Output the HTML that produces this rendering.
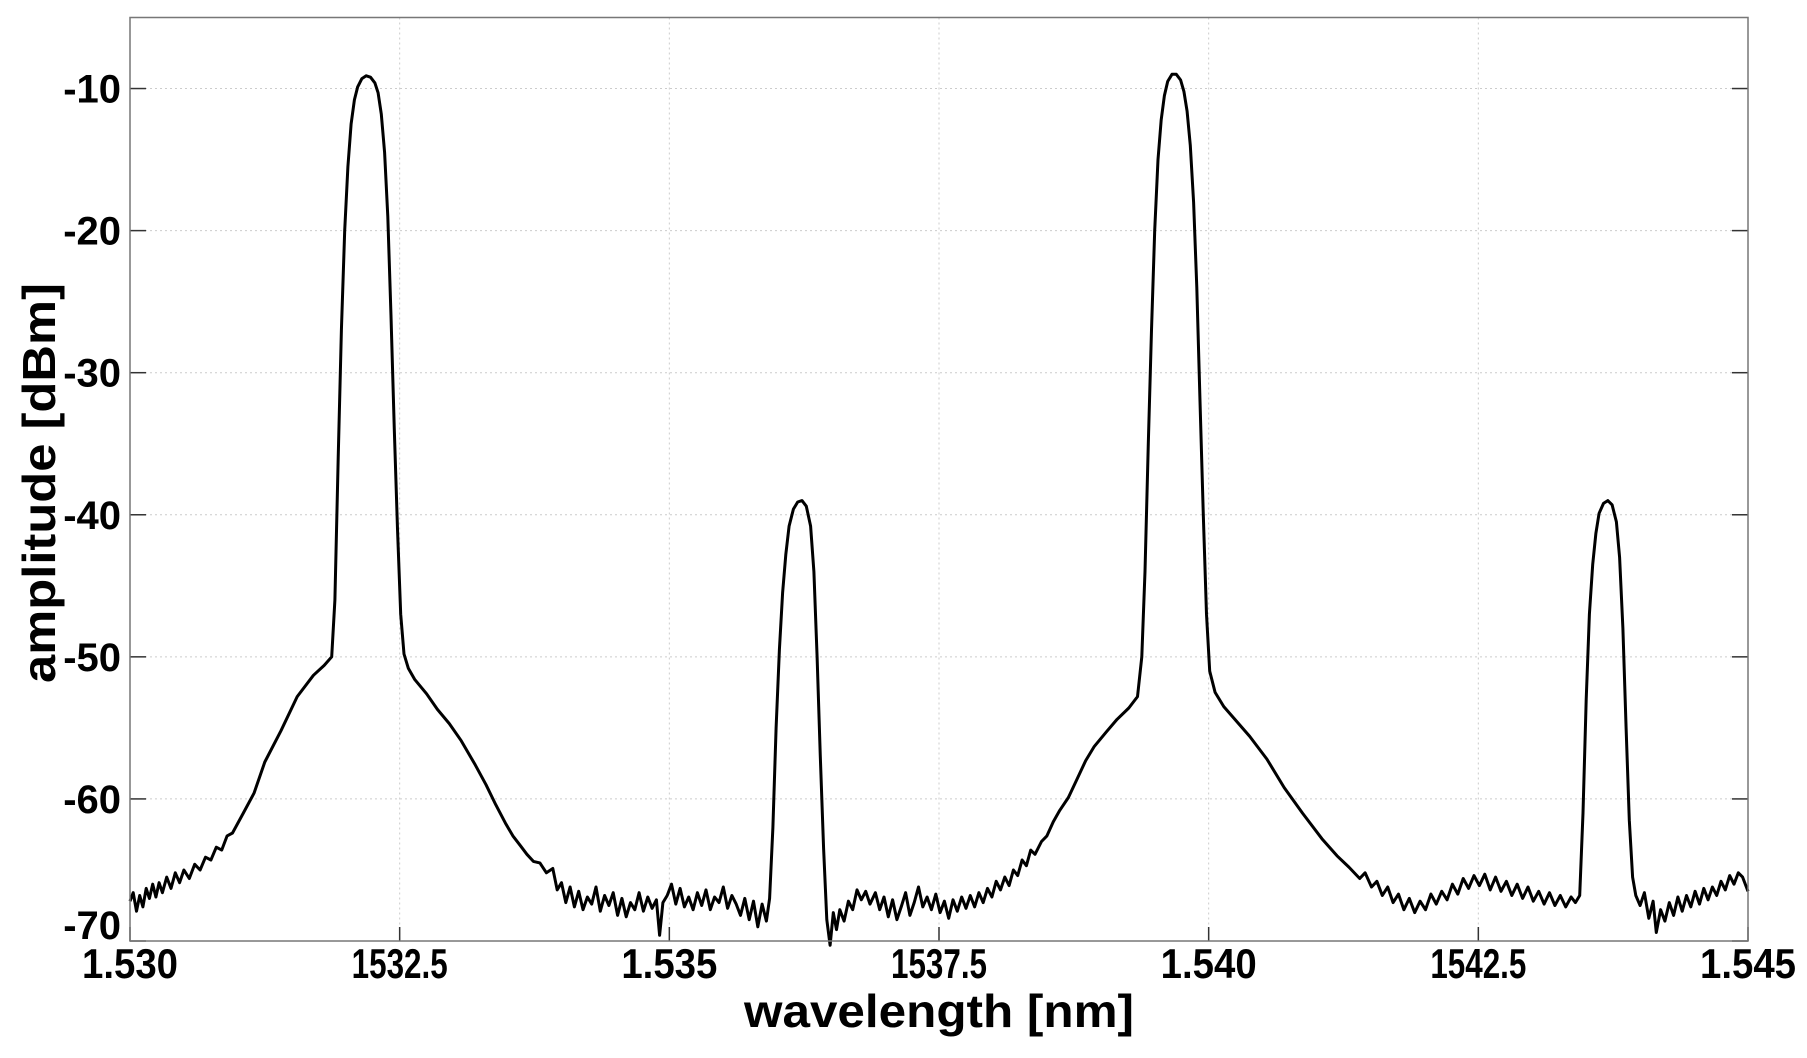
<!DOCTYPE html>
<html><head><meta charset="utf-8"><style>
html,body{margin:0;padding:0;background:#fff;}
svg{display:block;font-family:"Liberation Sans",Arial,sans-serif;font-weight:bold;}
</style></head><body>
<svg id="chart" width="1807" height="1058" viewBox="0 0 1807 1058" xmlns="http://www.w3.org/2000/svg">
<rect x="0" y="0" width="1807" height="1058" fill="#fff"/>
<g id="grid"></g>
<g id="ticks"></g>
<polyline id="trace" fill="none" stroke="#000" stroke-width="3" stroke-linejoin="round"/>
<rect x="130" y="17.5" width="1618" height="923.5" fill="none" stroke="#777" stroke-width="1.5"/>
<g id="xlabels"></g>
<g id="ylabels"></g>
<text x="939" y="1027" text-anchor="middle" font-size="46" textLength="390" lengthAdjust="spacingAndGlyphs">wavelength [nm]</text>
<text transform="translate(55,483) rotate(-90)" text-anchor="middle" font-size="46" textLength="400" lengthAdjust="spacingAndGlyphs">amplitude [dBm]</text>
</svg>
<script>
const xTicks=[1530,1532.5,1535,1537.5,1540,1542.5,1545];
const xTickLabels=["1.530","1532.5","1.535","1537.5","1.540","1542.5","1.545"];
const yTicks=[-10,-20,-30,-40,-50,-60,-70];
const yTickLabels=["-10","-20","-30","-40","-50","-60","-70"];
const wavelengths=[
1530.00,1530.03,1530.06,1530.09,1530.12,1530.15,1530.18,1530.21,1530.24,1530.27,
1530.30,1530.34,1530.38,1530.42,1530.46,1530.50,1530.55,1530.60,1530.65,1530.70,
1530.75,1530.80,1530.85,1530.90,1530.95,1531.05,1531.15,1531.25,1531.40,1531.55,
1531.70,1531.80,1531.87,1531.90,1531.93,1531.96,1531.99,1532.02,1532.05,1532.08,
1532.11,1532.15,1532.19,1532.23,1532.27,1532.30,1532.33,1532.36,1532.39,1532.42,
1532.45,1532.48,1532.51,1532.54,1532.58,1532.64,1532.75,1532.85,1532.96,1533.07,
1533.20,1533.30,1533.39,1533.48,1533.55,1533.62,1533.68,1533.74,1533.80,1533.86,
1533.92,1533.96,1534.00,1534.04,1534.08,1534.12,1534.16,1534.20,1534.24,1534.28,
1534.32,1534.36,1534.40,1534.44,1534.48,1534.52,1534.56,1534.60,1534.64,1534.68,
1534.72,1534.76,1534.80,1534.84,1534.88,1534.91,1534.94,1534.98,1535.02,1535.06,
1535.10,1535.14,1535.18,1535.22,1535.26,1535.30,1535.34,1535.38,1535.42,1535.46,
1535.50,1535.54,1535.58,1535.62,1535.66,1535.70,1535.74,1535.78,1535.82,1535.86,
1535.90,1535.93,1535.96,1535.99,1536.02,1536.05,1536.08,1536.11,1536.15,1536.19,
1536.23,1536.27,1536.31,1536.34,1536.37,1536.40,1536.43,1536.46,1536.49,1536.52,
1536.55,1536.58,1536.62,1536.66,1536.70,1536.74,1536.78,1536.82,1536.86,1536.91,
1536.95,1536.99,1537.03,1537.07,1537.11,1537.15,1537.19,1537.23,1537.27,1537.31,
1537.35,1537.39,1537.43,1537.47,1537.51,1537.55,1537.59,1537.63,1537.67,1537.71,
1537.75,1537.79,1537.83,1537.87,1537.91,1537.95,1537.99,1538.03,1538.07,1538.11,
1538.15,1538.19,1538.23,1538.27,1538.31,1538.35,1538.39,1538.45,1538.50,1538.56,
1538.62,1538.70,1538.78,1538.86,1538.94,1539.05,1539.15,1539.26,1539.34,1539.38,
1539.41,1539.44,1539.47,1539.50,1539.53,1539.56,1539.59,1539.62,1539.66,1539.70,
1539.74,1539.77,1539.80,1539.83,1539.86,1539.89,1539.92,1539.95,1539.98,1540.01,
1540.06,1540.14,1540.22,1540.38,1540.54,1540.70,1540.87,1541.05,1541.19,1541.30,
1541.40,1541.45,1541.51,1541.56,1541.61,1541.66,1541.71,1541.76,1541.81,1541.86,
1541.91,1541.96,1542.01,1542.06,1542.11,1542.16,1542.21,1542.26,1542.31,1542.36,
1542.41,1542.46,1542.51,1542.56,1542.61,1542.66,1542.71,1542.76,1542.81,1542.86,
1542.91,1542.96,1543.01,1543.06,1543.11,1543.16,1543.21,1543.26,1543.31,1543.36,
1543.40,1543.44,1543.47,1543.50,1543.53,1543.56,1543.59,1543.62,1543.66,1543.70,
1543.74,1543.78,1543.81,1543.84,1543.87,1543.90,1543.93,1543.96,1544.00,1544.04,
1544.08,1544.12,1544.15,1544.19,1544.23,1544.27,1544.31,1544.35,1544.39,1544.43,
1544.47,1544.51,1544.55,1544.59,1544.63,1544.67,1544.71,1544.75,1544.79,1544.83,
1544.87,1544.91,1544.95,1545.00];
const amplitudes=[
-67.2,-66.6,-67.9,-66.8,-67.6,-66.3,-67.0,-66.0,-66.9,-65.9,
-66.6,-65.5,-66.3,-65.2,-65.9,-65.0,-65.6,-64.6,-65.0,-64.1,
-64.3,-63.4,-63.6,-62.6,-62.4,-61.0,-59.6,-57.4,-55.2,-52.8,
-51.3,-50.6,-50.0,-46.0,-36.0,-27.0,-20.0,-15.5,-12.5,-10.8,
-9.9,-9.3,-9.1,-9.2,-9.6,-10.3,-11.8,-14.5,-19.0,-26.0,
-34.0,-41.0,-47.0,-49.8,-50.8,-51.6,-52.6,-53.7,-54.7,-55.9,
-57.6,-59.0,-60.4,-61.7,-62.6,-63.3,-63.9,-64.4,-64.5,-65.2,
-64.9,-66.4,-65.9,-67.3,-66.2,-67.6,-66.5,-67.8,-66.9,-67.4,
-66.2,-67.9,-66.8,-67.5,-66.6,-68.2,-67.0,-68.3,-67.3,-67.8,
-66.6,-67.9,-66.9,-67.7,-67.1,-69.6,-67.3,-66.8,-66.0,-67.4,
-66.3,-67.6,-66.9,-67.8,-66.6,-67.5,-66.4,-67.8,-66.9,-67.3,
-66.2,-67.7,-66.8,-67.4,-68.2,-67.0,-68.5,-67.2,-69.0,-67.4,
-68.6,-67.0,-62.0,-55.0,-49.5,-45.5,-42.8,-40.8,-39.6,-39.1,
-39.0,-39.4,-40.8,-44.0,-50.0,-57.0,-63.5,-68.5,-70.3,-68.0,
-69.2,-67.8,-68.6,-67.2,-67.8,-66.4,-67.1,-66.5,-67.4,-66.6,
-67.8,-66.9,-68.3,-67.1,-68.5,-67.6,-66.6,-68.2,-67.3,-66.2,
-67.6,-66.9,-67.8,-66.7,-68.0,-67.2,-68.4,-67.1,-67.9,-66.9,
-67.7,-66.8,-67.6,-66.6,-67.3,-66.3,-66.9,-65.8,-66.4,-65.5,
-66.1,-65.0,-65.4,-64.3,-64.7,-63.6,-63.9,-63.0,-62.6,-61.6,
-60.8,-59.9,-58.6,-57.3,-56.3,-55.3,-54.4,-53.6,-52.8,-50.0,
-44.0,-35.0,-27.0,-20.0,-15.0,-12.2,-10.5,-9.5,-9.0,-9.0,
-9.4,-10.2,-11.6,-14.0,-18.0,-24.0,-32.0,-40.0,-47.0,-51.0,
-52.5,-53.5,-54.2,-55.6,-57.2,-59.2,-61.0,-62.8,-64.0,-64.8,
-65.6,-65.2,-66.2,-65.8,-66.8,-66.2,-67.3,-66.7,-67.8,-67.0,
-68.0,-67.2,-67.8,-66.7,-67.4,-66.5,-67.1,-66.0,-66.7,-65.6,
-66.3,-65.4,-66.1,-65.3,-66.4,-65.5,-66.5,-65.8,-66.8,-66.0,
-67.0,-66.2,-67.2,-66.5,-67.4,-66.6,-67.5,-66.8,-67.6,-66.9,
-67.3,-66.8,-61.0,-53.0,-47.0,-43.5,-41.3,-39.9,-39.2,-39.0,
-39.3,-40.5,-43.0,-48.0,-55.0,-61.5,-65.5,-66.8,-67.5,-66.6,
-68.4,-67.2,-69.4,-67.8,-68.6,-67.3,-68.2,-66.9,-67.9,-66.8,
-67.6,-66.5,-67.4,-66.3,-67.1,-66.2,-66.8,-65.8,-66.4,-65.4,
-66.0,-65.2,-65.5,-66.5];

const L=130,R=1748,T=17.5,B=941;
const X0=1530,X1=1545,Y0=-5,Y1=-70;
const sx=v=>L+(v-X0)/(X1-X0)*(R-L);
const sy=v=>T+(v-Y0)/(Y1-Y0)*(B-T);
const NS="http://www.w3.org/2000/svg";
const grid=document.getElementById('grid'),ticks=document.getElementById('ticks');
const xl=document.getElementById('xlabels'),yl=document.getElementById('ylabels');
function mk(tag,attrs,parent){const e=document.createElementNS(NS,tag);for(const k in attrs)e.setAttribute(k,attrs[k]);parent.appendChild(e);return e;}
xTicks.forEach((t,i)=>{
  const x=sx(t);
  if(i>0&&i<xTicks.length-1){
    const g=mk('line',{x1:x,x2:x,y1:T,y2:B,stroke:'#ccc','stroke-width':1,'stroke-dasharray':'2,3'},grid);
    
    
  }
  const tk=mk('line',{x1:x,x2:x,y1:B,y2:B-14,stroke:'#333','stroke-width':1.5},ticks);
  
  
  const lb=mk('text',{x:x,y:978,'text-anchor':'middle','font-size':42,textLength:96,lengthAdjust:'spacingAndGlyphs'},xl);
  lb.textContent=xTickLabels[i];
  
  
});
yTicks.forEach((t,i)=>{
  const y=sy(t);
  if(i<yTicks.length-1){
    const g=mk('line',{x1:L,x2:R,y1:y,y2:y,stroke:'#ccc','stroke-width':1,'stroke-dasharray':'2,3'},grid);
    
    
  }
  const tk=mk('line',{x1:L,x2:L+16,y1:y,y2:y,stroke:'#333','stroke-width':1.5},ticks);
  
  
  const tk2=mk('line',{x1:R,x2:R-16,y1:y,y2:y,stroke:'#333','stroke-width':1.5},ticks);
  
  
  const lb=mk('text',{x:121,y:(i===yTicks.length-1?y-2:y+14),'text-anchor':'end','font-size':40},yl);
  lb.textContent=yTickLabels[i];
  
  
});
document.getElementById('trace').setAttribute('points',wavelengths.map((w,i)=>sx(w).toFixed(1)+','+sy(amplitudes[i]).toFixed(1)).join(' '));
</script>
</body></html>
